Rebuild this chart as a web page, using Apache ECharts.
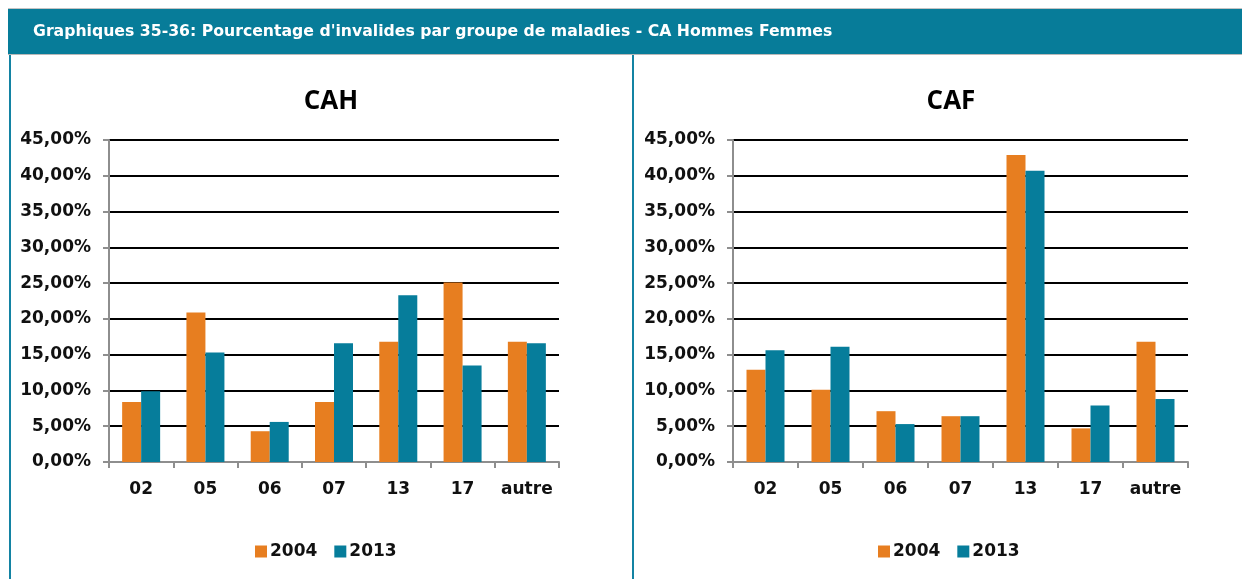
<!DOCTYPE html>
<html>
<head>
<meta charset="utf-8">
<script src="https://cdn.jsdelivr.net/npm/echarts@6/dist/echarts.min.js"></script>
<style>
  html, body { margin: 0; padding: 0; background: #ffffff; }
  #chart { width: 1242px; height: 579px; }
</style>
</head>
<body>
<div id="chart"></div>
<script>
// Disease groups (shared by both panels)
const categories = ['02', '05', '06', '07', '13', '17', 'autre'];
const seriesNames = ['2004', '2013'];

// CAH: share of invalids per disease group (%)
const cah2004 = [8.4, 20.9, 4.3, 8.4, 16.8, 25.1, 16.8];
const cah2013 = [9.9, 15.3, 5.6, 16.6, 23.3, 13.5, 16.6];

// CAF: share of invalids per disease group (%)
const caf2004 = [12.9, 10.1, 7.1, 6.4, 42.9, 4.7, 16.8];
const caf2013 = [15.6, 16.1, 5.3, 6.4, 40.7, 7.9, 8.8];

// Value-axis ticks
const yMin = 0, yMax = 45, yStep = 5;

const panelTitles = ['CAH', 'CAF'];
const headerText = "Graphiques 35-36: Pourcentage d'invalides par groupe de maladies - CA Hommes Femmes";

const ORANGE = '#E77E20';
const TEAL = '#067D9B';
const AXIS_GREY = '#8E8E8E';
const TICK_FONT = 'DejaVu Sans';

const chart = echarts.init(document.getElementById('chart'), null, { renderer: 'canvas' });

function pct(v) { return v.toFixed(2).replace('.', ',') + '%'; }

function xAxisFor(gridIndex) {
  return {
    type: 'category',
    gridIndex: gridIndex,
    data: categories,
    axisLine: { show: true, lineStyle: { color: AXIS_GREY, width: 2 } },
    axisTick: { show: true, alignWithLabel: false, length: 6, lineStyle: { color: AXIS_GREY, width: 2 } },
    axisLabel: { interval: 0, margin: 19, color: '#111', fontFamily: TICK_FONT, fontWeight: 'bold', fontSize: 17 },
    splitLine: { show: false }
  };
}

function yAxisFor(gridIndex) {
  return {
    type: 'value',
    gridIndex: gridIndex,
    min: yMin, max: yMax, interval: yStep,
    axisLine: { show: true, lineStyle: { color: AXIS_GREY, width: 2 } },
    axisTick: { show: true, length: 6, lineStyle: { color: AXIS_GREY, width: 2 } },
    axisLabel: { margin: 18, color: '#111', fontFamily: TICK_FONT, fontWeight: 'bold', fontSize: 17, formatter: pct },
    splitLine: { show: true, lineStyle: { color: '#000', width: 2 } }
  };
}

function barSeries(name, data, color, idx) {
  return {
    type: 'bar',
    name: name,
    data: data,
    xAxisIndex: idx,
    yAxisIndex: idx,
    barWidth: 19,
    barGap: '0%',
    itemStyle: { color: color },
    emphasis: { disabled: true },
    animation: false
  };
}

function legendAt(left) {
  return {
    data: seriesNames,
    left: left,
    top: 538,
    orient: 'horizontal',
    icon: 'rect',
    itemWidth: 12,
    itemHeight: 12,
    itemGap: 17,
    selectedMode: false,
    textStyle: { color: '#111', fontFamily: TICK_FONT, fontWeight: 'bold', fontSize: 17, padding: [0, 0, 0, -2] }
  };
}

const option = {
  animation: false,
  backgroundColor: '#ffffff',
  title: [
    { text: panelTitles[0], left: 326, top: 84, textAlign: 'center',
      textStyle: { fontFamily: 'Open Sans', fontWeight: 'bold', fontSize: 26, color: '#000' } },
    { text: panelTitles[1], left: 946, top: 84, textAlign: 'center',
      textStyle: { fontFamily: 'Open Sans', fontWeight: 'bold', fontSize: 26, color: '#000' } }
  ],
  grid: [
    { left: 109, top: 140, width: 450, height: 322, containLabel: false },
    { left: 733, top: 140, width: 455, height: 322, containLabel: false }
  ],
  xAxis: [xAxisFor(0), xAxisFor(1)],
  yAxis: [yAxisFor(0), yAxisFor(1)],
  legend: [legendAt(250), legendAt(873)],
  series: [
    barSeries(seriesNames[0], cah2004, ORANGE, 0),
    barSeries(seriesNames[1], cah2013, TEAL, 0),
    barSeries(seriesNames[0], caf2004, ORANGE, 1),
    barSeries(seriesNames[1], caf2013, TEAL, 1)
  ],
  graphic: [
    // header band with its title
    { type: 'rect', left: 8, top: 8, shape: { width: 1234, height: 1 }, style: { fill: '#C4C4C4' }, silent: true },
    { type: 'rect', left: 8, top: 9, shape: { width: 1234, height: 45 }, style: { fill: '#077C99' }, silent: true },
    { type: 'rect', left: 8, top: 54, shape: { width: 1234, height: 1 }, style: { fill: '#B8B8B8' }, silent: true },
    { type: 'text', left: 33, top: 24, silent: true,
      style: { text: headerText, fill: '#ffffff', font: 'bold 15.7px "DejaVu Sans"' } },
    // panel frame lines
    { type: 'rect', left: 9, top: 55, shape: { width: 2, height: 524 }, style: { fill: '#1383A3' }, silent: true },
    { type: 'rect', left: 632, top: 55, shape: { width: 2, height: 524 }, style: { fill: '#1383A3' }, silent: true }
  ]
};

chart.setOption(option);
</script>
</body>
</html>
